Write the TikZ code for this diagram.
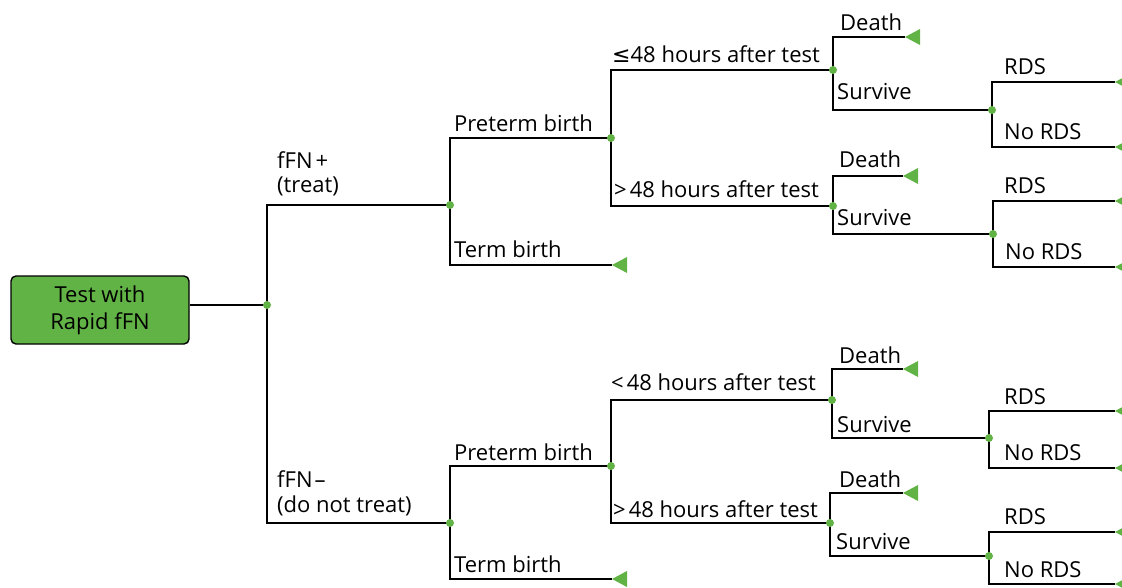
\documentclass[tikz,border=0pt]{standalone}
\usepackage{fontspec}
\setmainfont{Open Sans}
\newfontfamily\symfont{DejaVu Sans}
\definecolor{leafgreen}{RGB}{98,179,70}
\tikzset{
  branch/.style={line width=1.8pt, black},
  chance/.style={circle, fill=leafgreen, inner sep=0pt, minimum size=8pt},
  lbl/.style={anchor=base west, inner sep=0pt, font=\fontsize{22}{26}\selectfont},
  rootbox/.style={draw=black, line width=1.4pt, fill=leafgreen, rounded corners=5pt,
    minimum width=178pt, minimum height=68pt, align=center, inner sep=0pt,
    font=\fontsize{22}{27}\selectfont},
  leaf/.pic={\fill[leafgreen] (0,0) -- (15,8) -- (15,-8) -- cycle;}
}
\begin{document}
\begin{tikzpicture}[x=1pt, y=-1pt]
\useasboundingbox (0,0) rectangle (1122,588);

% decision node
\node[rootbox] (root) at (100,310) {Test with\\Rapid fFN};

% chance nodes
\coordinate (N0) at (267,305);
\coordinate (N1) at (450,205);
\coordinate (N2) at (450,523);
\coordinate (N3) at (611,138);
\coordinate (N4) at (611,466);
\coordinate (N5) at (833,70);
\coordinate (N6) at (833,206);
\coordinate (N7) at (832,400);
\coordinate (N8) at (830,523);
\coordinate (N9) at (992,110);
\coordinate (N10) at (993,234);
\coordinate (N11) at (989,438);
\coordinate (N12) at (989,556);

% terminal ends
\coordinate (T1) at (612,265);
\coordinate (T2) at (612,579);
\coordinate (T3) at (905,37);
\coordinate (T4) at (903,176);
\coordinate (T5) at (903,369);
\coordinate (T6) at (903,493);
\coordinate (T7) at (1115,82);
\coordinate (T8) at (1115,147);
\coordinate (T9) at (1115,201);
\coordinate (T10) at (1115,267);
\coordinate (T11) at (1115,411);
\coordinate (T12) at (1115,468);
\coordinate (T13) at (1115,532);
\coordinate (T14) at (1115,584);

% branches
\draw[branch] (root.east |- N0) -- (N0);
\draw[branch] (N0) |- (N1);
\draw[branch] (N0) |- (N2);
\draw[branch] (N1) |- (N3);
\draw[branch] (N1) |- (T1);
\draw[branch] (N2) |- (N4);
\draw[branch] (N2) |- (T2);
\draw[branch] (N3) |- (N5);
\draw[branch] (N3) |- (N6);
\draw[branch] (N4) |- (N7);
\draw[branch] (N4) |- (N8);
\draw[branch] (N5) |- (T3);
\draw[branch] (N5) |- (N9);
\draw[branch] (N6) |- (T4);
\draw[branch] (N6) |- (N10);
\draw[branch] (N7) |- (T5);
\draw[branch] (N7) |- (N11);
\draw[branch] (N8) |- (T6);
\draw[branch] (N8) |- (N12);
\draw[branch] (N9) |- (T7);
\draw[branch] (N9) |- (T8);
\draw[branch] (N10) |- (T9);
\draw[branch] (N10) |- (T10);
\draw[branch] (N11) |- (T11);
\draw[branch] (N11) |- (T12);
\draw[branch] (N12) |- (T13);
\draw[branch] (N12) |- (T14);

% chance dots
\foreach \n in {N0,N1,N2,N3,N4,N5,N6,N7,N8,N9,N10,N11,N12}
  \node[chance] (d\n) at (\n) {};

% terminal triangles
\foreach \t in {T1,T2,T3,T4,T5,T6,T7,T8,T9,T10,T11,T12,T13,T14}
  \pic at (\t) {leaf};

% labels
\node[lbl] (l1a) at (277,169) {fFN\kern3pt+};
\node[lbl] (l1b) at (277,193) {(treat)};
\node[lbl] (l2a) at (277,487) {fFN\kern2pt–};
\node[lbl] (l2b) at (277,512) {(do not treat)};

\node[lbl] (l3) at (454,132) {Preterm birth};
\node[lbl] (l4) at (454,258) {Term birth};
\node[lbl] (l5) at (454,460) {Preterm birth};
\node[lbl] (l6) at (454,572) {Term birth};

\node[lbl] (l7) at (612,63) {{\symfont ≤}48 hours after test};
\node[lbl] (l8) at (614,198) {>\kern3pt48 hours after test};
\node[lbl] (l9) at (611,390) {<\kern3pt48 hours after test};
\node[lbl] (l10) at (613,517) {>\kern3pt48 hours after test};

\node[lbl] (l11) at (840,31) {Death};
\node[lbl] (l12) at (837,100) {Survive};
\node[lbl] (l13) at (839,168) {Death};
\node[lbl] (l14) at (837,226) {Survive};
\node[lbl] (l15) at (839,363) {Death};
\node[lbl] (l16) at (837,432) {Survive};
\node[lbl] (l17) at (839,487) {Death};
\node[lbl] (l18) at (836,549) {Survive};

\node[lbl] (l19) at (1004,75) {RDS};
\node[lbl] (l20) at (1004,140) {No RDS};
\node[lbl] (l21) at (1004,194) {RDS};
\node[lbl] (l22) at (1005,259) {No RDS};
\node[lbl] (l23) at (1004,404) {RDS};
\node[lbl] (l24) at (1004,460) {No RDS};
\node[lbl] (l25) at (1004,524) {RDS};
\node[lbl] (l26) at (1004,577) {No RDS};
\end{tikzpicture}
\end{document}
